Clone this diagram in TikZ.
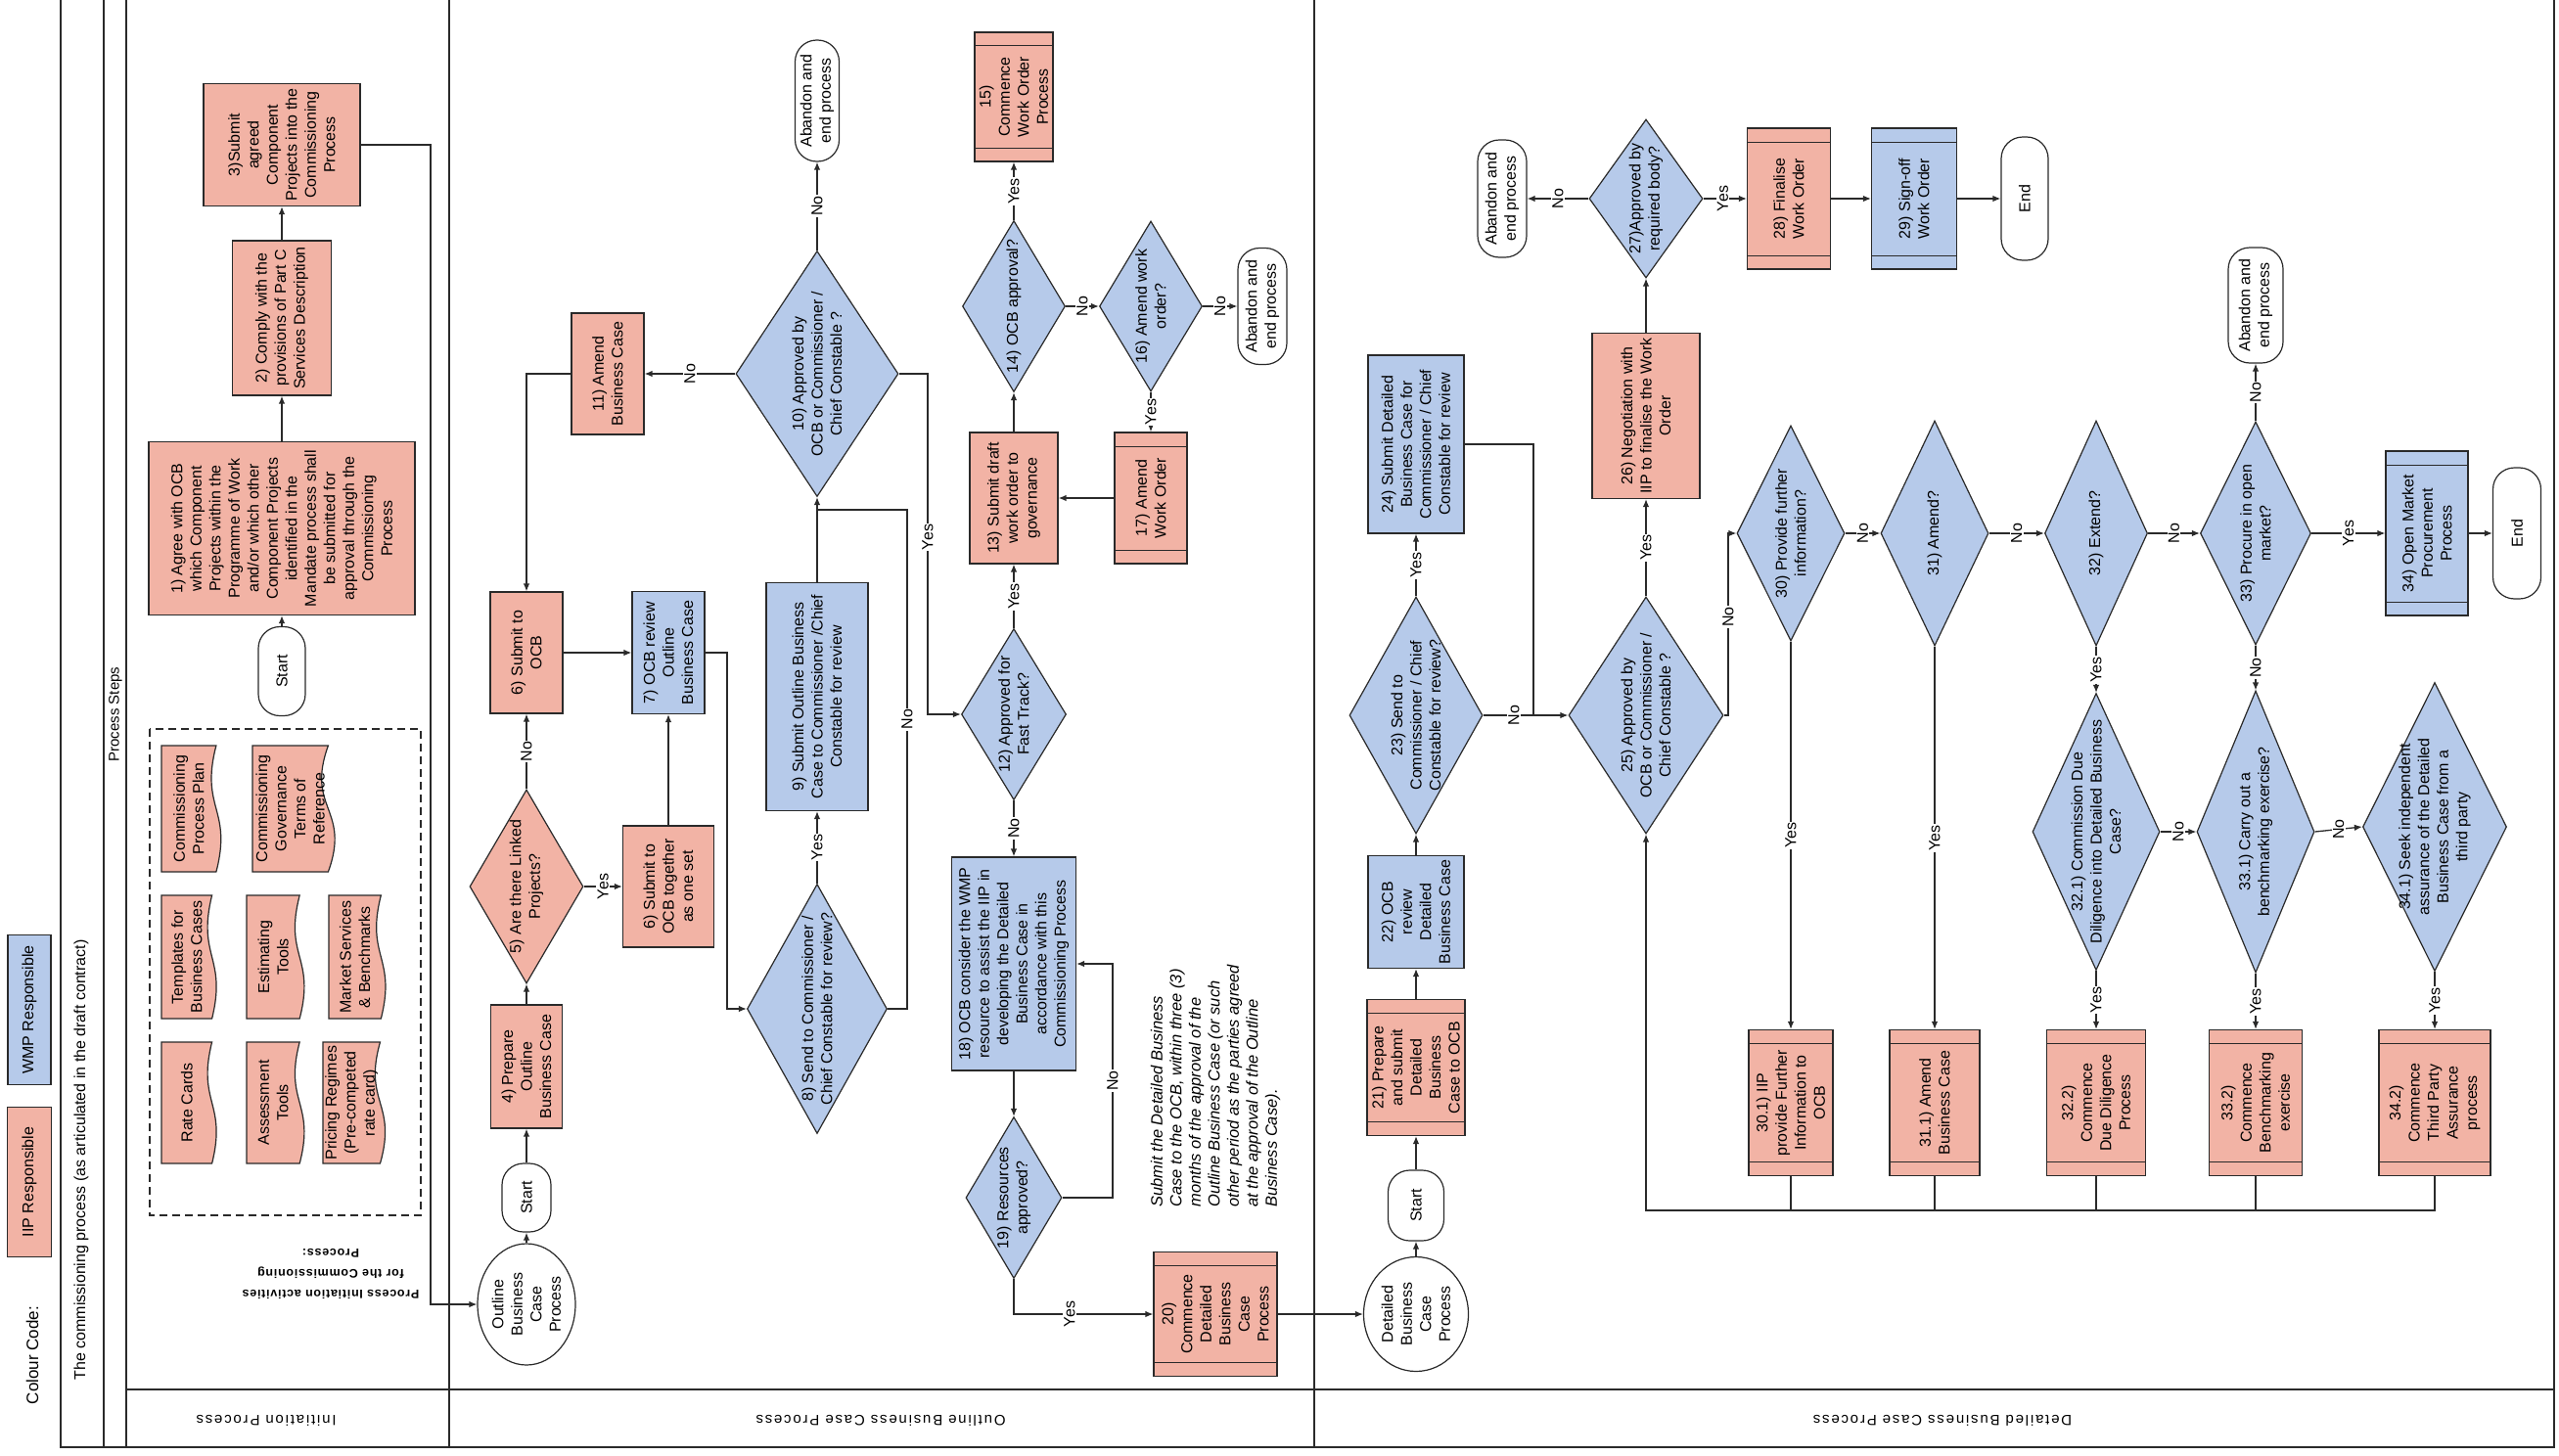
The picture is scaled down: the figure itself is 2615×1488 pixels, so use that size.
\documentclass[tikz,border=0pt]{standalone}
\usepackage{fontspec}
\setmainfont{Liberation Sans}
\usetikzlibrary{shapes.geometric,arrows.meta}
\definecolor{pinkc}{HTML}{F2B3A5}
\definecolor{bluec}{HTML}{B6CAEA}
\definecolor{linec}{HTML}{2A2A2A}
\newcommand\myfs{\fontsize{16}{19.5}\selectfont}
\newcommand\shp[6]{\node[#1,minimum width=#4pt,minimum height=#5pt] (#2) at (#3) {}; \node[tx] (#2-t) at (#2.center) {#6};}
\newcommand\docshape[6]{%
 \draw[docst] (#1,#2) -- (#1,#4) -- ({#1+0.86*(#3-#1)},#4) .. controls ({#1+1.12*(#3-#1)},{(#2+#4)/2}) and ({#1+0.60*(#3-#1)},{(#2+#4)/2}) .. ({#1+0.86*(#3-#1)},#2) -- cycle;
 \node[tx] (#5) at ({#1+0.43*(#3-#1)},{(#2+#4)/2}) {#6};}
\tikzset{
 tx/.style={rotate=90, align=center, font=\myfs, inner sep=0pt},
 box/.style={rectangle, draw=linec, line width=1.2pt, inner sep=0pt},
 ipb/.style={box, fill=pinkc},
 wmb/.style={box, fill=bluec},
 ppl/.style={path picture={\draw[line width=1pt,draw=linec]
   ([yshift=-14pt]path picture bounding box.north west) -- ([yshift=-14pt]path picture bounding box.north east)
   ([yshift=14pt]path picture bounding box.south west) -- ([yshift=14pt]path picture bounding box.south east);}},
 ipp/.style={ipb, ppl},
 wmp/.style={wmb, ppl},
 dia/.style={diamond, draw=linec, line width=1.2pt, inner sep=0pt},
 ipd/.style={dia, fill=pinkc},
 wmd/.style={dia, fill=bluec},
 term/.style={rectangle, rounded corners=22pt, draw=linec, line width=1.2pt, fill=white, inner sep=0pt},
 circ/.style={ellipse, draw=linec, line width=1.2pt, fill=white, inner sep=0pt},
 docst/.style={draw=linec, line width=1.2pt, fill=pinkc},
 ln/.style={draw=linec, line width=1.3pt},
 arr/.style={ln, -{Latex[length=8pt,width=6.5pt]}},
 lab/.style={rotate=90, fill=white, inner sep=1.2pt, font=\myfs},
 frm/.style={draw=linec, line width=1.3pt},
 lane/.style={rotate=180, font=\addfontfeatures{LetterSpace=12}\fontsize{15}{18}\selectfont},
}
\begin{document}
\begin{tikzpicture}[x=1pt,y=-1pt]
\useasboundingbox (0,0) rectangle (2615,1488);
\fill[white] (0,0) rectangle (2615,1488);
% frame
\draw[frm] (62,0) -- (62,1479) -- (2610,1479) -- (2610,0);
\draw[frm] (106,0) -- (106,1479);
\draw[frm] (129,0) -- (129,1479);
\draw[frm] (129,1420) -- (2610,1420);
\draw[frm] (459,0) -- (459,1479);
\draw[frm] (1343,0) -- (1343,1479);
% header texts
\node[rotate=90, anchor=west, font=\fontsize{16}{19}\selectfont] (title) at (83,1414) {The commissioning process (as articulated in the draft contract)};
\node[rotate=90, font=\fontsize{15}{18}\selectfont] (psteps) at (118,730) {Process Steps};
\node[rotate=90, font=\fontsize{17}{20}\selectfont] (ccode) at (33,1385) {Colour Code:};
\shp{wmb}{lg2}{30,1032}{44}{153}{WMP Responsible}
\shp{ipb}{lg1}{30,1208}{45}{153}{IIP Responsible}
\node[lane] (ln1) at (272,1452) {Initiation Process};
\node[lane] (ln2) at (900,1452) {Outline Business Case Process};
\node[lane] (ln3) at (1985,1452) {Detailed Business Case Process};
\node[rotate=180, align=center, font=\addfontfeatures{LetterSpace=6}\fontsize{12.5}{21}\selectfont\bfseries] (pinit) at (338,1302) {Process Initiation activities\\for the Commissioning\\Process:};
% initiation documents
\draw[ln, dashed, dash pattern=on 8pt off 5pt] (153,745) rectangle (430,1242);
\docshape{165}{762}{230}{891}{doc1}{Commissioning\\Process Plan}
\docshape{165}{915}{225}{1041}{doc2}{Templates for\\Business Cases}
\docshape{165}{1065}{225}{1189}{doc3}{Rate Cards}
\docshape{258}{762}{348}{891}{doc4}{Commissioning\\Governance\\Terms of\\Reference}
\docshape{252}{915}{315}{1041}{doc5}{Estimating\\Tools}
\docshape{252}{1065}{315}{1189}{doc6}{Assessment\\Tools}
\docshape{336}{915}{398}{1041}{doc7}{Market Services\\\& Benchmarks}
\docshape{330}{1065}{398}{1189}{doc8}{Pricing Regimes\\(Pre-competed\\rate card)}
% initiation flow
\shp{ipb}{b1}{288,540}{272}{177}{1) Agree with OCB\\which Component\\Projects within the\\Programme of Work\\and/or which other\\Component Projects\\identified in the\\Mandate process shall\\be submitted for\\approval through the\\Commissioning\\Process}
\shp{ipb}{b2}{288,325}{101}{158}{2) Comply with the\\provisions of Part C\\Services Description}
\shp{ipb}{b3}{288,148}{160}{125}{3)Submit\\agreed\\Component\\Projects into the\\Commissioning\\Process}
\shp{term}{st1}{288,686}{48}{91}{Start}
% outline lane
\shp{circ}{ocirc}{538,1333}{100}{124}{Outline\\Business\\Case\\Process}
\shp{term}{st2}{538,1224}{50}{70}{Start}
\shp{ipb}{b4}{538,1090}{73}{126}{4) Prepare\\Outline\\Business Case}
\shp{ipd}{d5}{538,906}{116}{198}{5) Are there Linked\\Projects?}
\shp{ipb}{b6}{538,667}{74}{124}{6) Submit to\\OCB}
\shp{ipb}{b6b}{683,906}{93}{124}{6) Submit to\\OCB together\\as one set}
\shp{wmb}{b7}{683,667}{74}{125}{7) OCB review\\Outline\\Business Case}
\shp{ipb}{b11}{621,382}{74}{124}{11) Amend\\Business Case}
\shp{wmd}{d10}{835,382}{166}{251}{10) Approved by\\OCB or Commissioner /\\Chief Constable ?}
\shp{term}{ab1}{835,103}{45}{124}{Abandon and\\end process}
\shp{wmb}{b9}{835,712}{104}{233}{9) Submit Outline Business\\Case to Commissioner /Chief\\Constable for review}
\shp{wmd}{d8}{835,1031}{143}{255}{8) Send to Commissioner /\\Chief Constable for review?}
\shp{wmd}{d12}{1036,730}{107}{175}{12) Approved for\\Fast Track?}
\shp{ipb}{b13}{1036,509}{90}{134}{13) Submit draft\\work order to\\governance}
\shp{wmd}{d14}{1036,313}{105}{175}{14) OCB approval?}
\shp{ipp}{b15}{1036,99}{80}{132}{15)\\Commence\\Work Order\\Process}
\shp{wmd}{d16}{1176,313}{105}{174}{16) Amend work\\order?}
\shp{term}{ab2}{1290,313}{50}{119}{Abandon and\\end process}
\shp{ipp}{b17}{1176,509}{74}{134}{17) Amend\\Work Order}
\shp{wmb}{b18}{1036,985}{127}{218}{18) OCB consider the WMP\\resource to assist the IIP in\\developing the Detailed\\Business Case in\\accordance with this\\Commissioning Process}
\shp{wmd}{d19}{1036,1224}{98}{165}{19) Resources\\approved?}
\shp{ipp}{b20}{1242,1343}{126}{127}{20)\\Commence\\Detailed\\Business\\Case\\Process}
\node[rotate=90, anchor=west, align=left, font=\fontsize{16.5}{19.5}\selectfont\itshape] (note) at (1242,1237) {Submit the Detailed Business\\Case to the OCB, within three (3)\\months of the approval of the\\Outline Business Case (or such\\other period as the parties agreed\\at the approval of the Outline\\Business Case).};
% detailed lane
\shp{circ}{dcirc}{1447,1343}{107}{117}{Detailed\\Business\\Case\\Process}
\shp{term}{st3}{1447,1232}{57}{72}{Start}
\shp{ipp}{b21}{1447,1091}{100}{139}{21) Prepare\\and submit\\Detailed\\Business\\Case to OCB}
\shp{wmb}{b22}{1447,932}{98}{115}{22) OCB\\review\\Detailed\\Business Case}
\shp{wmd}{d23}{1447,731}{136}{242}{23) Send to\\Commissioner / Chief\\Constable for review?}
\shp{wmb}{b24}{1447,454}{98}{182}{24) Submit Detailed\\Business Case for\\Commissioner / Chief\\Constable for review}
\shp{wmd}{d25}{1682,731}{158}{242}{25) Approved by\\OCB or Commissioner /\\Chief Constable ?}
\shp{ipb}{b26}{1682,425}{110}{169}{26) Negotiation with\\IIP to finalise the Work\\Order}
\shp{wmd}{d27}{1682,203}{116}{162}{27)Approved by\\required body?}
\shp{term}{ab3}{1535,203}{50}{120}{Abandon and\\end process}
\shp{ipp}{b28}{1828,203}{85}{144}{28) Finalise\\Work Order}
\shp{wmp}{b29}{1956,203}{87}{144}{29) Sign-off\\Work Order}
\shp{term}{end1}{2069,203}{48}{126}{End}
\shp{wmd}{d30}{1830,545}{110}{220}{30) Provide further\\information?}
\shp{wmd}{d31}{1977,545}{110}{230}{31) Amend?}
\shp{wmd}{d32}{2142,545}{105}{230}{32) Extend?}
\shp{wmd}{d33}{2305,545}{113}{228}{33) Procure in open\\market?}
\shp{term}{ab4}{2305,312}{56}{118}{Abandon and\\end process}
\shp{wmp}{b34}{2480,545}{84}{168}{34) Open Market\\Procurement\\Process}
\shp{term}{end2}{2572,545}{49}{134}{End}
\shp{wmd}{d32a}{2142,850}{130}{283}{32.1) Commission Due\\Diligence into Detailed Business\\Case?}
\shp{wmd}{d33a}{2305,850}{120}{288}{33.1) Carry out a\\benchmarking exercise?}
\shp{wmd}{d34a}{2488,845}{147}{295}{34.1) Seek independent\\assurance of the Detailed\\Business Case from a\\third party}
\shp{ipp}{b301}{1830,1127}{86}{149}{30.1) IIP\\provide Further\\Information to\\OCB}
\shp{ipp}{b311}{1977,1127}{92}{149}{31.1) Amend\\Business Case}
\shp{ipp}{b322}{2142,1127}{101}{149}{32.2)\\Commence\\Due Diligence\\Process}
\shp{ipp}{b332}{2305,1127}{95}{149}{33.2)\\Commence\\Benchmarking\\exercise}
\shp{ipp}{b342}{2488,1127}{114}{149}{34.2)\\Commence\\Third Party\\Assurance\\process}
% ---------- connectors: initiation
\draw[arr] (st1.north) -- (b1.south);
\draw[arr] (b1.north) -- (b2.south);
\draw[arr] (b2.north) -- (b3.south);
\coordinate (k3) at (440,1333);
\draw[arr] (b3.east) -| (k3) -- (ocirc.west);
% outline
\draw[arr] (ocirc.north) -- (st2.south);
\draw[arr] (st2.north) -- (b4.south);
\draw[arr] (b4.north) -- (d5.south);
\draw[arr] (d5.north) -- (b6.south) node[lab,midway]{No};
\draw[arr] (d5.east) -- (b6b.west) node[lab,midway]{Yes};
\draw[arr] (b6b.north) -- (b7.south);
\draw[arr] (b6.east) -- (b7.west);
\draw[arr] (b11.west) -| (b6.north);
\draw[arr] (d10.west) -- (b11.east) node[lab,midway]{No};
\draw[arr] (d10.north) -- (ab1.south) node[lab,midway]{No};
\coordinate (k7) at (743,1031);
\draw[arr] (b7.east) -| (k7) -- (d8.west);
\draw[arr] (d8.north) -- (b9.south) node[lab,midway]{Yes};
\draw[arr] (b9.north) -- (d10.south);
\coordinate (k8) at (927,521);
\draw[ln] (d8.east) -| (k8) node[lab,pos=0.79]{No} -- (k8 -| b9.north);
\coordinate (k10) at (948,730);
\draw[arr] (d10.east) -| (k10) node[lab,pos=0.74]{Yes} -- (d12.west);
\draw[arr] (d12.north) -- (b13.south) node[lab,midway]{Yes};
\draw[arr] (b13.north) -- (d14.south);
\draw[arr] (d14.north) -- (b15.south) node[lab,midway]{Yes};
\draw[arr] (d14.east) -- (d16.west) node[lab,midway]{No};
\draw[arr] (d16.east) -- (ab2.west) node[lab,midway]{No};
\draw[arr] (d16.south) -- (b17.north) node[lab,midway]{Yes};
\draw[arr] (b17.west) -- (b13.east);
\draw[arr] (d12.south) -- (b18.north) node[lab,midway]{No};
\draw[arr] (b18.south) -- (d19.north);
\coordinate (k19) at (1137,985);
\draw[arr] (d19.east) -| (k19) node[lab,pos=0.75]{No} -- (b18.east);
\draw[arr] (d19.south) |- (b20.west) node[lab,pos=0.7]{Yes};
\draw[arr] (b20.east) -- (dcirc.west);
% detailed
\draw[arr] (dcirc.north) -- (st3.south);
\draw[arr] (st3.north) -- (b21.south);
\draw[arr] (b21.north) -- (b22.south);
\draw[arr] (b22.north) -- (d23.south);
\draw[arr] (d23.north) -- (b24.south) node[lab,midway]{Yes};
\draw[arr] (d23.east) -- (d25.west) node[lab,pos=0.36]{No};
\coordinate (k24) at (1567,731);
\draw[ln] (b24.east) -| (k24);
\draw[arr] (d25.north) -- (b26.south) node[lab,midway]{Yes};
\draw[arr] (b26.north) -- (d27.south);
\draw[arr] (d27.west) -- (ab3.east) node[lab,midway]{No};
\draw[arr] (d27.east) -- (b28.west) node[lab,pos=0.45]{Yes};
\draw[arr] (b28.east) -- (b29.west);
\draw[arr] (b29.east) -- (end1.west);
\coordinate (k25) at (1766,545);
\draw[arr] (d25.east) -| (k25) node[lab,pos=0.77]{No} -- (d30.west);
\draw[arr] (d30.east) -- (d31.west) node[lab,midway]{No};
\draw[arr] (d31.east) -- (d32.west) node[lab,midway]{No};
\draw[arr] (d32.east) -- (d33.west) node[lab,midway]{No};
\draw[arr] (d33.north) -- (ab4.south) node[lab,midway]{No};
\draw[arr] (d33.east) -- (b34.west) node[lab,midway]{Yes};
\draw[arr] (b34.east) -- (end2.west);
\draw[arr] (d30.south) -- (b301.north) node[lab,midway]{Yes};
\draw[arr] (d31.south) -- (b311.north) node[lab,midway]{Yes};
\draw[arr] (d32.south) -- (d32a.north) node[lab,midway]{Yes};
\draw[arr] (d33.south) -- (d33a.north) node[lab,midway]{No};
\draw[arr] (d32a.south) -- (b322.north) node[lab,midway]{Yes};
\draw[arr] (d33a.south) -- (b332.north) node[lab,midway]{Yes};
\draw[arr] (d34a.south) -- (b342.north) node[lab,midway]{Yes};
\draw[arr] (d32a.east) -- (d33a.west) node[lab,midway]{No};
\draw[arr] (d33a.east) -- (d34a.west) node[lab,midway]{No};
\coordinate (kr) at (1682,1237);
\draw[arr] (b342.south) |- (kr) -- (d25.south);
\draw[ln] (b301.south) -- (b301.south |- kr);
\draw[ln] (b311.south) -- (b311.south |- kr);
\draw[ln] (b322.south) -- (b322.south |- kr);
\draw[ln] (b332.south) -- (b332.south |- kr);
\end{tikzpicture}
\end{document}
